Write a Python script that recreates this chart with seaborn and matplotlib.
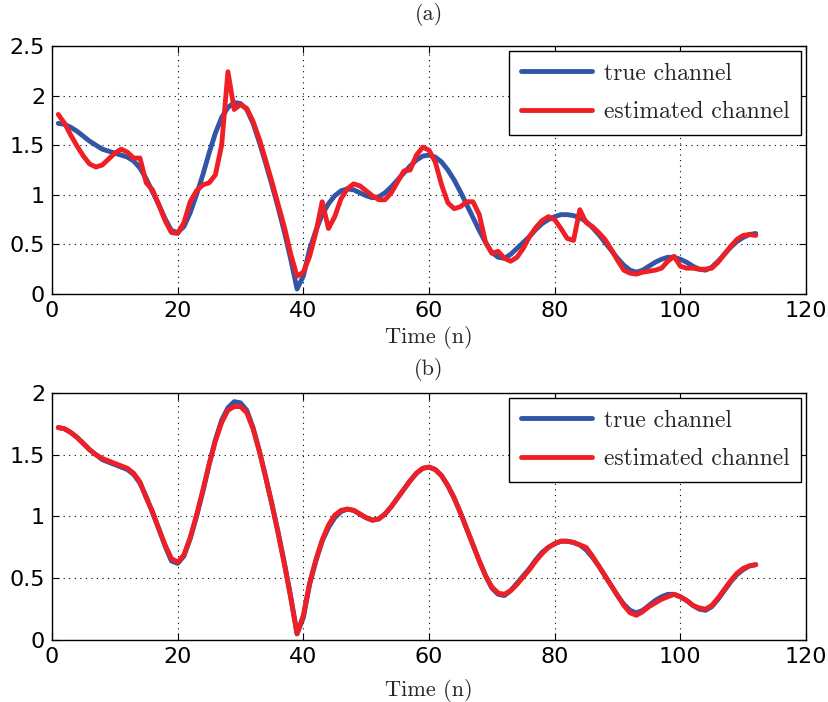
import numpy as np
import pandas as pd
import matplotlib
matplotlib.use("Agg")
import matplotlib.pyplot as plt
import seaborn as sns

n = list(range(1, 113))

true_channel = [
    1.72, 1.71, 1.68, 1.64, 1.59, 1.54, 1.50, 1.46, 1.44, 1.42,
    1.40, 1.38, 1.34, 1.27, 1.16, 1.03, 0.90, 0.76, 0.64, 0.62,
    0.68, 0.82, 1.00, 1.20, 1.42, 1.62, 1.78, 1.88, 1.93, 1.92,
    1.86, 1.72, 1.53, 1.32, 1.10, 0.87, 0.62, 0.35, 0.05, 0.18,
    0.45, 0.64, 0.80, 0.91, 0.99, 1.04, 1.06, 1.05, 1.02, 0.99,
    0.97, 0.98, 1.02, 1.08, 1.15, 1.22, 1.29, 1.35, 1.39, 1.40,
    1.38, 1.33, 1.25, 1.15, 1.03, 0.90, 0.77, 0.64, 0.52, 0.42,
    0.37, 0.36, 0.40, 0.46, 0.52, 0.58, 0.65, 0.71, 0.75, 0.78,
    0.80, 0.80, 0.79, 0.77, 0.73, 0.67, 0.60, 0.52, 0.44, 0.36,
    0.29, 0.24, 0.22, 0.24, 0.28, 0.32, 0.35, 0.37, 0.37, 0.35,
    0.32, 0.28, 0.25, 0.24, 0.27, 0.33, 0.40, 0.47, 0.53, 0.57,
    0.60, 0.61,
]

estimated_a = [
    1.81, 1.72, 1.60, 1.49, 1.39, 1.31, 1.28, 1.30, 1.36, 1.42,
    1.46, 1.43, 1.37, 1.37, 1.12, 1.05, 0.90, 0.74, 0.62, 0.61,
    0.72, 0.93, 1.04, 1.10, 1.12, 1.20, 1.50, 2.24, 1.86, 1.91,
    1.87, 1.74, 1.56, 1.35, 1.13, 0.90, 0.67, 0.40, 0.18, 0.22,
    0.38, 0.62, 0.93, 0.66, 0.78, 0.96, 1.06, 1.11, 1.09, 1.04,
    0.99, 0.95, 0.95, 1.02, 1.13, 1.24, 1.25, 1.40, 1.48, 1.45,
    1.33, 1.10, 0.92, 0.86, 0.88, 0.93, 0.93, 0.80, 0.52, 0.41,
    0.43, 0.36, 0.33, 0.37, 0.46, 0.58, 0.67, 0.74, 0.78, 0.75,
    0.66, 0.56, 0.54, 0.85, 0.72, 0.68, 0.62, 0.55, 0.45, 0.34,
    0.24, 0.21, 0.20, 0.22, 0.23, 0.24, 0.26, 0.33, 0.38, 0.28,
    0.26, 0.26, 0.25, 0.25, 0.26, 0.32, 0.40, 0.48, 0.55, 0.59,
    0.60, 0.59,
]

estimated_b = [
    1.72, 1.71, 1.68, 1.64, 1.59, 1.54, 1.50, 1.47, 1.45, 1.43,
    1.41, 1.39, 1.35, 1.28, 1.15, 1.04, 0.90, 0.77, 0.66, 0.63,
    0.69, 0.83, 1.01, 1.21, 1.42, 1.61, 1.76, 1.86, 1.89, 1.89,
    1.84, 1.71, 1.53, 1.32, 1.10, 0.86, 0.61, 0.34, 0.05, 0.20,
    0.46, 0.65, 0.81, 0.93, 1.01, 1.05, 1.06, 1.05, 1.02, 0.99,
    0.97, 0.98, 1.02, 1.08, 1.15, 1.22, 1.29, 1.35, 1.39, 1.40,
    1.38, 1.33, 1.25, 1.15, 1.03, 0.90, 0.77, 0.64, 0.52, 0.43,
    0.38, 0.37, 0.40, 0.45, 0.51, 0.57, 0.64, 0.70, 0.75, 0.78,
    0.80, 0.80, 0.79, 0.77, 0.75, 0.68, 0.60, 0.52, 0.44, 0.36,
    0.28, 0.22, 0.20, 0.23, 0.27, 0.30, 0.33, 0.35, 0.37, 0.35,
    0.32, 0.28, 0.26, 0.25, 0.28, 0.34, 0.41, 0.48, 0.54, 0.58,
    0.60, 0.61,
]

panel_titles = ["(a)", "(b)"]
series_labels = ["true channel", "estimated channel"]
x_label = "Time (n)"
x_ticks = [0, 20, 40, 60, 80, 100, 120]
y_ticks_a = [0, 0.5, 1, 1.5, 2, 2.5]
y_tick_labels_a = ["0", "0.5", "1", "1.5", "2", "2.5"]
y_ticks_b = [0, 0.5, 1, 1.5, 2]
y_tick_labels_b = ["0", "0.5", "1", "1.5", "2"]

sns.set_style("ticks")

BLUE = "#3355a6"
RED = "#ee1f25"
SERIF = ["cmr10", "DejaVu Serif"]
SANS = ["DejaVu Sans"]

fig = plt.figure(figsize=(8.29, 7.02), dpi=100)
ax_a = fig.add_axes([0.0627, 0.5812, 0.9096, 0.3533])
ax_b = fig.add_axes([0.0627, 0.0883, 0.9096, 0.3519])

panels = [
    (ax_a, estimated_a, y_ticks_a, y_tick_labels_a, 2.5, 19, -0.175),
    (ax_b, estimated_b, y_ticks_b, y_tick_labels_b, 2.0, 13, -0.203),
]

for (ax, est, yt, ytl, ymax, tpad, xly), title in zip(panels, panel_titles):
    df = pd.DataFrame({"n": n, "true": true_channel, "est": est})
    sns.lineplot(data=df, x="n", y="true", ax=ax, color=BLUE, lw=3.5,
                 label=series_labels[0])
    sns.lineplot(data=df, x="n", y="est", ax=ax, color=RED, lw=3.5,
                 label=series_labels[1])
    ax.set_xlim(0, 120)
    ax.set_ylim(0, ymax)
    ax.set_xticks(x_ticks)
    ax.set_xticklabels([str(t) for t in x_ticks], family=SANS, fontsize=16)
    ax.set_yticks(yt)
    ax.set_yticklabels(ytl, family=SANS, fontsize=16)
    ax.tick_params(direction="in", top=True, right=True, length=5,
                   width=0.8, pad=5, colors="black")
    ax.grid(True, linestyle=(0, (1, 4)), color="black", linewidth=0.8)
    for sp in ax.spines.values():
        sp.set_visible(True)
        sp.set_linewidth(1.0)
        sp.set_color("black")
    ax.set_xlabel(x_label, family=SERIF, fontsize=16)
    ax.xaxis.label.set_va("center")
    ax.xaxis.set_label_coords(0.5, xly)
    ax.set_ylabel("")
    ax.set_title(title, family=SERIF, fontsize=16, pad=tpad)
    leg = ax.legend(loc="upper right", fancybox=False, frameon=True,
                    edgecolor="black", framealpha=1, borderpad=0.5,
                    handlelength=3.0, handletextpad=0.5, labelspacing=0.7,
                    borderaxespad=0.2,
                    prop={"family": SERIF, "size": 17})
    leg.get_frame().set_linewidth(1.0)

fig.savefig("out.png", dpi=100)
